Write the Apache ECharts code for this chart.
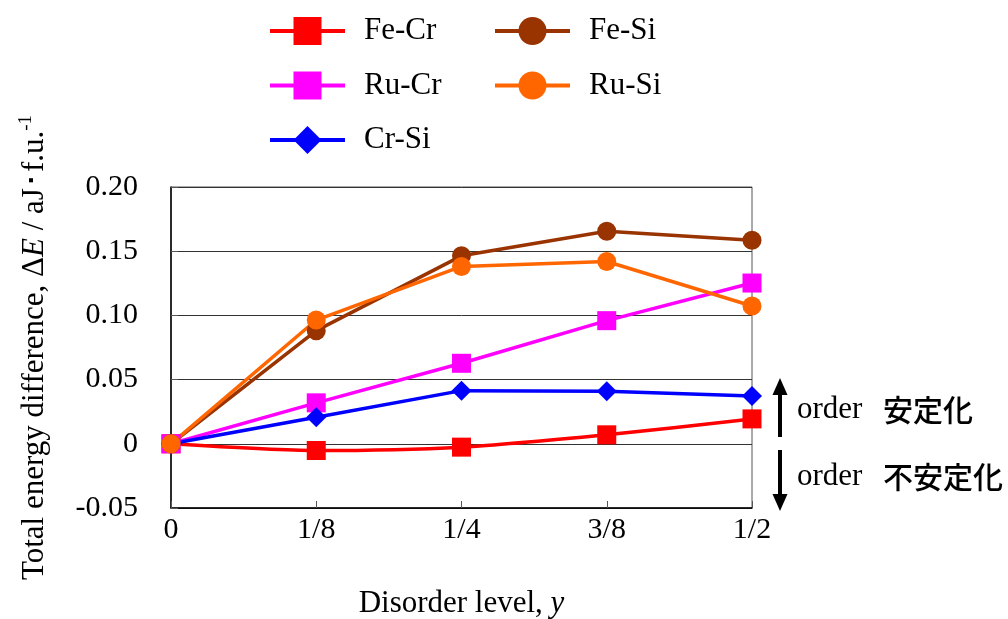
<!DOCTYPE html>
<html>
<head>
<meta charset="utf-8">
<script src="https://cdn.jsdelivr.net/npm/echarts@6/dist/echarts.min.js"></script>
<style>
  html, body { margin: 0; padding: 0; background: #fff; }
  #chart { width: 1008px; height: 619px; }
</style>
</head>
<body>
<div id="chart"></div>
<script>
// Disorder levels along the x axis
const xLabels = ['0', '1/8', '1/4', '3/8', '1/2'];

// Total energy difference ΔE (aJ/f.u.) for each pair
const feCr = [0, -0.0052, -0.0026, 0.0070, 0.0194];
const ruCr = [0, 0.0319, 0.0627, 0.0959, 0.1252];
const crSi = [0, 0.0207, 0.0414, 0.0409, 0.0373];
const feSi = [0, 0.0881, 0.1464, 0.1656, 0.1586];
const ruSi = [0, 0.0964, 0.1381, 0.1420, 0.1073];

// Value axis range
const yMin = -0.05;
const yMax = 0.20;
const yStep = 0.05;

const serif = '"Liberation Serif", "Times New Roman", serif';
const cjk = '"Noto Sans CJK JP", sans-serif';

function lineSeries(name, data, color, symbol, size, smooth) {
  return {
    name: name,
    type: 'line',
    data: data,
    smooth: smooth || false,
    symbol: symbol,
    symbolSize: size,
    showSymbol: true,
    lineStyle: { color: color, width: 3.5 },
    itemStyle: { color: color, borderWidth: 0 },
    emphasis: { disabled: true },
    animation: false
  };
}

const chart = echarts.init(document.getElementById('chart'));

const legendCommon = {
  orient: 'vertical',
  top: 15.5,
  padding: 0,
  itemWidth: 75,
  itemHeight: 35,
  itemGap: 23.5,
  selectedMode: false,
  lineStyle: { width: 4 },
  textStyle: { fontFamily: serif, fontSize: 31, color: '#000', padding: [0, 0, 0, 14] }
};

chart.setOption({
  backgroundColor: '#fff',
  animation: false,
  grid: {
    left: 171, right: 256, top: 187, bottom: 111,
    outerBoundsMode: 'none',
    containLabel: false,
    show: true, borderColor: '#555', borderWidth: 1, backgroundColor: 'transparent'
  },
  legend: [
    Object.assign({ left: 268, data: ['Fe-Cr', 'Ru-Cr', 'Cr-Si'] }, legendCommon),
    Object.assign({ left: 493, data: ['Fe-Si', 'Ru-Si'] }, legendCommon)
  ],
  xAxis: {
    type: 'category',
    data: xLabels,
    boundaryGap: false,
    axisLine: { onZero: false, lineStyle: { color: '#000', width: 1.5 } },
    axisTick: { inside: true, length: 7, lineStyle: { color: '#555' } },
    axisLabel: { fontFamily: serif, fontSize: 30, color: '#000', margin: 7 },
    splitLine: { show: false },
    name: 'Disorder level, {i|y}',
    nameLocation: 'middle',
    nameGap: 80,
    nameTextStyle: {
      fontFamily: serif, fontSize: 31, color: '#000',
      rich: { i: { fontFamily: serif, fontSize: 31, fontStyle: 'italic', color: '#000' } }
    }
  },
  yAxis: {
    type: 'value',
    min: yMin,
    max: yMax,
    interval: yStep,
    axisLine: { show: true, lineStyle: { color: '#000', width: 1.5 } },
    axisTick: { show: true, inside: true, length: 7, lineStyle: { color: '#555' } },
    axisLabel: {
      fontFamily: serif, fontSize: 30, color: '#000', margin: 33,
      formatter: function (v) {
        if (Math.abs(v) < 1e-9) return '0';
        return v.toFixed(2);
      }
    },
    splitLine: { show: true, lineStyle: { color: '#333', width: 1 } },
    name: 'Total energy difference, Δ{i|E} / aJ･f.u.{sup|-1}',
    nameLocation: 'middle',
    nameGap: 118,
    nameRotate: 90,
    nameTextStyle: {
      fontFamily: serif, fontSize: 31, color: '#000', lineHeight: 36,
      rich: {
        i: { fontFamily: serif, fontSize: 31, fontStyle: 'italic', color: '#000' },
        sup: { fontFamily: serif, fontSize: 19, color: '#000', verticalAlign: 'top', lineHeight: 20 }
      }
    }
  },
  series: [
    lineSeries('Fe-Cr', feCr, '#ff0000', 'rect', 19, 0.25),
    lineSeries('Ru-Cr', ruCr, '#ff00ff', 'rect', 19),
    lineSeries('Cr-Si', crSi, '#0000ff', 'diamond', 20),
    lineSeries('Fe-Si', feSi, '#993300', 'circle', 19),
    lineSeries('Ru-Si', ruSi, '#ff6600', 'circle', 19)
  ],
  graphic: [
    // stabilising direction
    { type: 'line', shape: { x1: 780, y1: 437, x2: 780, y2: 392 }, style: { stroke: '#000', lineWidth: 4 } },
    { type: 'polygon', shape: { points: [[780, 378], [772.5, 395], [787.5, 395]] }, style: { fill: '#000' } },
    // destabilising direction
    { type: 'line', shape: { x1: 780, y1: 450, x2: 780, y2: 496 }, style: { stroke: '#000', lineWidth: 4 } },
    { type: 'polygon', shape: { points: [[780, 511], [772.5, 494], [787.5, 494]] }, style: { fill: '#000' } },
    { type: 'text', x: 797, y: 410, style: { text: 'order', font: '31px ' + serif, fill: '#000', verticalAlign: 'middle' } },
    { type: 'text', x: 883, y: 410, style: { text: '安定化', font: '500 30px ' + cjk, fill: '#000', verticalAlign: 'middle' } },
    { type: 'text', x: 797, y: 477, style: { text: 'order', font: '31px ' + serif, fill: '#000', verticalAlign: 'middle' } },
    { type: 'text', x: 883, y: 477, style: { text: '不安定化', font: '500 30px ' + cjk, fill: '#000', verticalAlign: 'middle' } }
  ]
});
</script>
</body>
</html>
